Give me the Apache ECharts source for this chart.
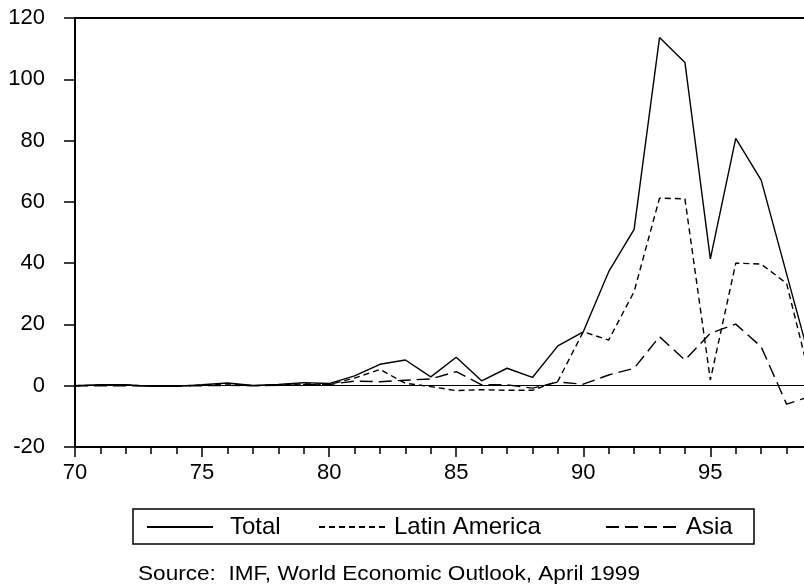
<!DOCTYPE html>
<html><head><meta charset="utf-8">
<script src="https://cdn.jsdelivr.net/npm/echarts@6/dist/echarts.min.js"></script>
<style>html,body{margin:0;padding:0;background:#fff}#c{width:804px;height:587px}</style>
</head><body><div id="c"></div>
<script>
const years = [70,71,72,73,74,75,76,77,78,79,80,81,82,83,84,85,86,87,88,89,90,91,92,93,94,95,96,97,98,99];
const total = [0,0.3,0.3,-0.2,-0.2,0.3,0.9,0.1,0.4,1.0,0.7,3.2,7.0,8.4,2.9,9.3,1.6,5.7,2.7,13.0,17.6,37.2,51.0,113.6,105.5,41.4,80.7,67.1,36.5,6];
const latinAmerica = [0,0.2,0.2,-0.1,-0.1,0.2,0.6,0,0.3,0.6,0.4,2.5,5.3,0.8,-0.3,-1.6,-1.3,-1.5,-1.5,1.5,17.6,14.9,30.7,61.2,61.0,1.9,40.0,39.7,33.4,0];
const asia = [0,0,0,0,0,0,0.1,0,0.1,0.3,0.4,1.5,1.3,1.8,2.2,4.6,0.3,0.3,-0.8,1.2,0.5,3.5,5.7,16,8.4,17.1,20.1,12.7,-6.0,-3.3];
const yTicks = [-20,0,20,40,60,80,100,120];
const sourceText = 'Source:  IMF, World Economic Outlook, April 1999';

const FONT = '"Liberation Sans", Arial, sans-serif';
const pairs = arr => years.map((y, i) => [y, arr[i]]);
const chart = echarts.init(document.getElementById('c'), null, {renderer: 'canvas'});
function mkLegend(name, left, width, padLeft) {
  return {
    data: [name], left: left, top: 515, padding: 0, itemWidth: width, itemHeight: 14,
    selectedMode: false,
    itemStyle: {opacity: 0},
    textStyle: {fontFamily: FONT, fontSize: 24, color: '#000', padding: [0, 0, 0, padLeft]}
  };
}
chart.setOption({
  animation: false,
  backgroundColor: '#fff',
  grid: {left: 75, top: 18, width: 737, height: 429, outerBoundsMode: 'none', containLabel: false,
         show: true, borderColor: '#000', borderWidth: 2, backgroundColor: 'transparent'},
  xAxis: {
    type: 'value', min: 70, max: 99, interval: 5,
    axisLine: {show: true, onZero: false, lineStyle: {color: '#000', width: 2}},
    axisTick: {show: true, length: 10, lineStyle: {color: '#000', width: 1.5}},
    minorTick: {show: true, splitNumber: 5, length: 7, lineStyle: {color: '#000', width: 1.5}},
    splitLine: {show: false},
    axisLabel: {color: '#000', fontFamily: FONT, fontSize: 22, margin: 15, showMaxLabel: false}
  },
  yAxis: {
    type: 'value', min: yTicks[0], max: yTicks[yTicks.length - 1], interval: 20,
    axisLine: {show: true, onZero: false, lineStyle: {color: '#000', width: 2}},
    axisTick: {show: true, length: 11, lineStyle: {color: '#000', width: 1.5}},
    splitLine: {show: false},
    axisLabel: {color: '#000', fontFamily: FONT, fontSize: 22, margin: 30}
  },
  legend: [mkLegend('Total', 146, 66, 12), mkLegend('Latin America', 318, 69, 1), mkLegend('Asia', 605, 72, 3)],
  series: [
    {name: 'Total', type: 'line', data: pairs(total), symbol: 'none', color: '#000',
     lineStyle: {color: '#000', width: 1.4, type: 'solid'},
     markLine: {silent: true, symbol: 'none', label: {show: false}, lineStyle: {color: '#000', width: 1.2, type: 'solid'}, data: [{yAxis: 0}]}},
    {name: 'Latin America', type: 'line', data: pairs(latinAmerica), symbol: 'none', color: '#000',
     lineStyle: {color: '#000', width: 1.4, type: [6, 4]}},
    {name: 'Asia', type: 'line', data: pairs(asia), symbol: 'none', color: '#000',
     lineStyle: {color: '#000', width: 1.4, type: [13, 6]}}
  ],
  graphic: [
    {type: 'rect', shape: {x: 133, y: 509, width: 621, height: 35}, style: {fill: 'none', stroke: '#000', lineWidth: 1.5}, silent: true},
    {type: 'text', x: 138, y: 574, scaleX: 1.13, style: {text: sourceText, font: '20px ' + FONT, fill: '#000', verticalAlign: 'middle'}, silent: true}
  ]
});
</script></body></html>
